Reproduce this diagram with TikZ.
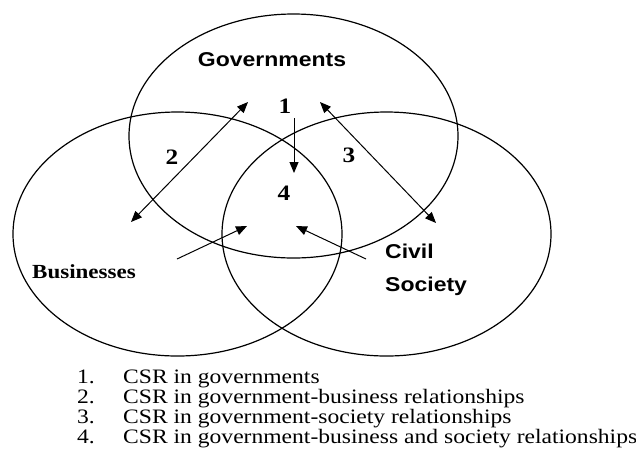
\documentclass[tikz,border=0pt]{standalone}
\usepackage{fontspec}
\usepackage{graphicx}
\setmainfont{Liberation Serif}
\setsansfont{Liberation Sans}
\usetikzlibrary{arrows.meta}
\newcommand{\wtext}[1]{\scalebox{1.15}[1]{#1}}
\tikzset{
  ring/.style={line width=1.2pt},
  onearrow/.style={line width=1pt, -{Triangle[length=11pt,width=9pt]}},
  twoarrow/.style={line width=1pt, {Triangle[length=11pt,width=9pt]}-{Triangle[length=11pt,width=9pt]}},
  sector/.style={font=\sffamily\bfseries\fontsize{20}{24}\selectfont, inner sep=0pt},
  num/.style={font=\bfseries\fontsize{22}{24}\selectfont, inner sep=0pt, anchor=base},
  keyline/.style={font=\fontsize{20.5}{20.5}\selectfont, inner sep=0pt, anchor=base west}
}
\begin{document}
\begin{tikzpicture}[x=1pt, y=-1pt]
            \useasboundingbox (0,0) rectangle (636,448);
            % the three sectors
            \draw[ring] (293.5,136) ellipse [x radius=164.5, y radius=122];
            \draw[ring] (177.5,234) ellipse [x radius=164.5, y radius=122];
            \draw[ring] (386.5,234) ellipse [x radius=164.5, y radius=122];
            \node[sector, anchor=base] (gov) at (272,66) {\wtext{Governments}};
            \node[sector, font=\rmfamily\bfseries\fontsize{20}{24}\selectfont, anchor=base west] (bus) at (32,278) {\wtext{Businesses}};
            \node[sector, anchor=base west] (civ) at (385,258) {\wtext{Civil}};
            \node[sector, anchor=base west] (soc) at (385,291) {\wtext{Society}};
            % numbers
            \node[num] (n1) at (285,113) {\wtext{1}};
            \node[num] (n2) at (172,164) {\wtext{2}};
            \node[num] (n3) at (349,162) {\wtext{3}};
            \node[num] (n4) at (284,200) {\wtext{4}};
            % arrow ends
            \coordinate (g2) at (248,102);
            \coordinate (b2) at (131,222);
            \coordinate (g3) at (320,102);
            \coordinate (c3) at (436,223);
            \coordinate (g1) at (294,118);
            \coordinate (m1) at (294,173);
            \coordinate (bs) at (177,259);
            \coordinate (bm) at (247,226);
            \coordinate (cs) at (366,259);
            \coordinate (cm) at (296,226);
            \draw[twoarrow] (b2)--(g2);
            \draw[twoarrow] (g3)--(c3);
            \draw[onearrow] (g1)--(m1);
            \draw[onearrow] (bs)--(bm);
            \draw[onearrow] (cs)--(cm);
            % key
            \node[keyline] (k1) at (77,383) {\wtext{1.}};
            \node[keyline] (k2) at (77,403) {\wtext{2.}};
            \node[keyline] (k3) at (77,423) {\wtext{3.}};
            \node[keyline] (k4) at (77,443) {\wtext{4.}};
            \node[keyline] (t1) at (123,383) {\wtext{CSR in governments}};
            \node[keyline] (t2) at (123,403) {\wtext{CSR in government-business relationships}};
            \node[keyline] (t3) at (123,423) {\wtext{CSR in government-society relationships}};
            \node[keyline] (t4) at (123,443) {\wtext{CSR in government-business and society relationships}};
        \end{tikzpicture}
\end{document}
